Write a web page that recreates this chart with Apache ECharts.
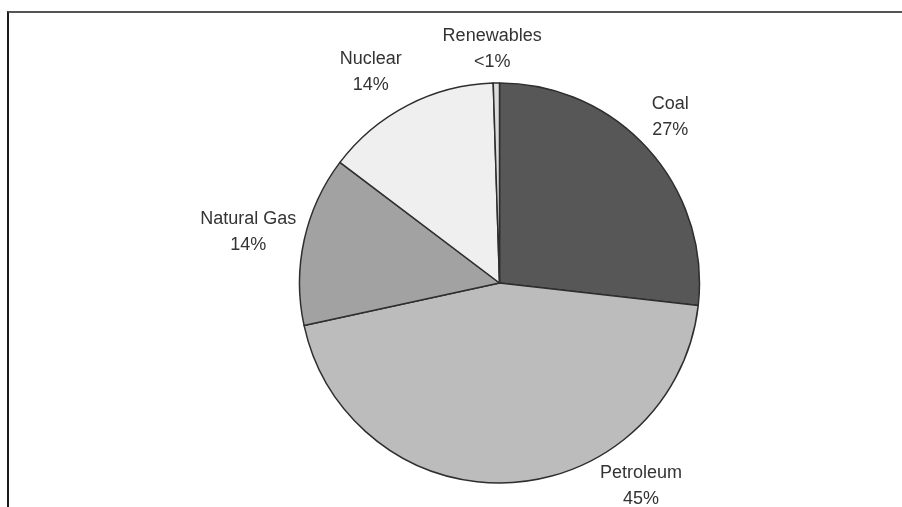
<!DOCTYPE html>
<html>
<head>
<meta charset="utf-8">
<script src="https://cdn.jsdelivr.net/npm/echarts@6/dist/echarts.min.js"></script>
<style>
  html, body { margin: 0; padding: 0; background: #fff; }
  #wrap { position: relative; width: 902px; height: 507px; overflow: hidden; }
  #chart { position: absolute; left: 0; top: 0; width: 902px; height: 507px; }
  #frame { position: absolute; left: 7px; top: 11px; width: 920px; height: 520px;
           border-top: 2px solid #555; border-left: 2px solid #1a1a1a; pointer-events: none; }
</style>
</head>
<body>
<div id="wrap">
  <div id="chart"></div>
  <div id="frame"></div>
</div>
<script>
// ---- data ----
var categories = ['Coal', 'Petroleum', 'Natural Gas', 'Nuclear', 'Renewables'];
var values = [26.8, 44.8, 13.7, 14.2, 0.5];
var pctLabels = ['27%', '45%', '14%', '14%', '<1%'];

// ---- styling / layout ----
var sliceColors = ['#575757', '#bcbcbc', '#a2a2a2', '#efefef', '#dcdcdc'];
var CX = 499.5, CY = 283, R = 200;
// label placement: angular nudge (deg) from slice middle and distance from centre
var labelNudge = [-2.4, -32, -1, -4, -0.9];
var labelDist = [238, 247.5, 256.4, 247.6, 234];

var total = values.reduce(function (a, b) { return a + b; }, 0);
var midAngles = [];
var acc = 0;
for (var i = 0; i < values.length; i++) {
  midAngles.push((acc + values[i] / 2) / total * 360);
  acc += values[i];
}

var chart = echarts.init(document.getElementById('chart'), null, { renderer: 'canvas' });
var option = {
  animation: false,
  backgroundColor: 'transparent',
  series: [{
    type: 'pie',
    center: [CX, CY],
    radius: R,
    startAngle: 90,
    clockwise: true,
    avoidLabelOverlap: false,
    emphasis: { disabled: true },
    itemStyle: { borderColor: '#2e2e2e', borderWidth: 1.5 },
    label: {
      show: true,
      position: 'outside',
      fontFamily: 'Liberation Sans, Arial, sans-serif',
      fontSize: 18,
      lineHeight: 26,
      color: '#333',
      formatter: function (p) { return p.name + '\n' + pctLabels[p.dataIndex]; }
    },
    labelLine: { show: false },
    labelLayout: function (p) {
      var i = p.dataIndex;
      var a = (midAngles[i] + labelNudge[i]) * Math.PI / 180;
      return {
        x: CX + labelDist[i] * Math.sin(a),
        y: CY - labelDist[i] * Math.cos(a),
        align: 'center',
        verticalAlign: 'middle'
      };
    },
    data: categories.map(function (c, i) {
      return { name: c, value: values[i], itemStyle: { color: sliceColors[i] } };
    })
  }]
};
chart.setOption(option);
</script>
</body>
</html>
